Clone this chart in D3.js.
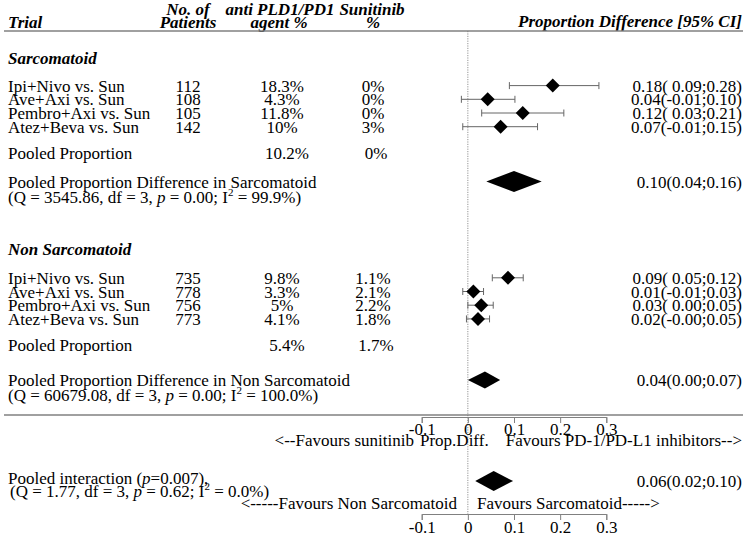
<!DOCTYPE html>
<html><head><meta charset="utf-8">
<script src="https://cdn.jsdelivr.net/npm/d3@7"></script>
<style>
body{margin:0;background:#fff}
text{font-family:"Liberation Serif","Times New Roman",Times,serif;font-size:17px;fill:#000}
.hdr{font-weight:bold;font-style:italic}
</style>
</head><body><svg id="c" width="753" height="543"></svg>
<script>
// ---------- data ----------
const headers = ["Trial","No. of","Patients","anti PLD1/PD1","agent %","Sunitinib","%","Proportion Difference [95% CI]"];
const groups = ["Sarcomatoid","Non Sarcomatoid"];
const trials = ["Ipi+Nivo vs. Sun","Ave+Axi vs. Sun","Pembro+Axi vs. Sun","Atez+Beva vs. Sun"];

const sarcN     = [112,108,105,142];
const sarcAgent = ["18.3%","4.3%","11.8%","10%"];
const sarcSun   = ["0%","0%","0%","3%"];
const sarcEst   = [0.184,0.043,0.119,0.071];
const sarcLo    = [0.09,-0.014,0.03,-0.011];
const sarcHi    = [0.284,0.102,0.208,0.151];
const sarcCI    = ["0.18( 0.09;0.28)","0.04(-0.01;0.10)","0.12( 0.03;0.21)","0.07(-0.01;0.15)"];
const sarcPooledAgent = "10.2%", sarcPooledSun = "0%";
const sarcPooled = {est:0.10, lo:0.04, hi:0.16, label:"0.10(0.04;0.16)",
  title:"Pooled Proportion Difference in Sarcomatoid", Q:"3545.86", df:"3", p:"0.00", I2:"99.9%"};

const nonN     = [735,778,756,773];
const nonAgent = ["9.8%","3.3%","5%","4.1%"];
const nonSun   = ["1.1%","2.1%","2.2%","1.8%"];
const nonEst   = [0.087,0.012,0.029,0.022];
const nonLo    = [0.053,-0.011,0.0,-0.003];
const nonHi    = [0.12,0.034,0.055,0.047];
const nonCI    = ["0.09( 0.05;0.12)","0.01(-0.01;0.03)","0.03( 0.00;0.05)","0.02(-0.00;0.05)"];
const nonPooledAgent = "5.4%", nonPooledSun = "1.7%";
const nonPooled = {est:0.037, lo:0.0, hi:0.07, label:"0.04(0.00;0.07)",
  title:"Pooled Proportion Difference in Non Sarcomatoid", Q:"60679.08", df:"3", p:"0.00", I2:"100.0%"};

const interaction = {est:0.056, lo:0.016, hi:0.098, label:"0.06(0.02;0.10)",
  p:"0.007", Q:"1.77", df:"3", pQ:"0.62", I2:"0.0%"};

const tickVals = [-0.1,0,0.1,0.2,0.3];
const axisText1 = ["<--Favours sunitinib","Prop.Diff.","Favours PD-1/PD-L1 inhibitors-->"];
const axisText2 = ["<-----Favours Non Sarcomatoid","Favours Sarcomatoid----->"];

// ---------- layout ----------
const svg = d3.select("#c");
const x = d3.scaleLinear().domain([-0.1,0.3]).range([421.7,606.3]);
const rowSarc = d3.scaleLinear().domain([0,1]).range([85.6,99.3]);
const rowNon  = d3.scaleLinear().domain([0,1]).range([277.8,291.5]);
const colTrial = 8, colN = 188, colAgent = 282, colSun = 373, colCI = 742;
const gray = "#808080";

function txt(xp, y, s, anchor, cls){
  return svg.append("text").attr("x",xp).attr("y",y).attr("text-anchor",anchor||"start")
    .attr("class",cls||null).text(s);
}

// header
txt(colTrial,28,headers[0],"start","hdr");
txt(colN,15,headers[1],"middle","hdr");
txt(colN,28,headers[2],"middle","hdr");
txt(280,15,headers[3],"middle","hdr");
txt(279,28,headers[4],"middle","hdr");
txt(372,15,headers[5],"middle","hdr");
txt(373,28,headers[6],"middle","hdr");
txt(colCI,27,headers[7],"end","hdr");

svg.append("line").attr("x1",4).attr("x2",743).attr("y1",31).attr("y2",31)
  .attr("stroke",gray).attr("stroke-width",1.3);
svg.append("line").attr("x1",4).attr("x2",743).attr("y1",415).attr("y2",415)
  .attr("stroke",gray).attr("stroke-width",1.3);

// zero reference line
svg.append("line").attr("x1",x(0)).attr("x2",x(0)).attr("y1",31).attr("y2",515)
  .attr("stroke","#777").attr("stroke-width",0.8).attr("stroke-dasharray","1.2,1.2");

function diamondPath(cx, cy, hw, hh){
  return `M${cx-hw},${cy}L${cx},${cy-hh}L${cx+hw},${cy}L${cx},${cy+hh}Z`;
}
function poolPath(est, lo, hi, cy, hh){
  return `M${x(lo)},${cy}L${x(est)},${cy-hh}L${x(hi)},${cy}L${x(est)},${cy+hh}Z`;
}

function qLine(xp, y, Q, df, p, I2){
  const t = svg.append("text").attr("x",xp).attr("y",y);
  t.append("tspan").text(`(Q = ${Q}, df = ${df}, `);
  t.append("tspan").attr("font-style","italic").text("p");
  t.append("tspan").text(` = ${p}; I`);
  t.append("tspan").attr("font-size","11px").attr("dy",-7).text("2");
  t.append("tspan").attr("dy",7).text(` = ${I2})`);
  return t;
}

function section(groupName, gy, rowY, N, agent, sun, est, lo, hi, ci, pAgent, pSun, pooled, pooledY, pooledRowY, hh){
  txt(colTrial, gy, groupName, "start", "hdr");
  const idx = d3.range(trials.length);
  idx.forEach(i=>{
    const y = rowY(i);
    txt(colTrial, y+6, trials[i]);
    txt(colN, y+6, String(N[i]), "middle");
    txt(colAgent, y+6, agent[i], "middle");
    txt(colSun, y+6, sun[i], "middle");
    txt(colCI, y+6, ci[i], "end");
  });
  const g = svg.append("g");
  g.selectAll("line.ci").data(idx).join("line").attr("class","ci")
    .attr("x1",i=>x(lo[i])).attr("x2",i=>x(hi[i])).attr("y1",i=>rowY(i)).attr("y2",i=>rowY(i))
    .attr("stroke","#666").attr("stroke-width",1);
  g.selectAll("line.capl").data(idx).join("line").attr("class","capl")
    .attr("x1",i=>x(lo[i])).attr("x2",i=>x(lo[i])).attr("y1",i=>rowY(i)-3.5).attr("y2",i=>rowY(i)+3.5)
    .attr("stroke","#666").attr("stroke-width",1);
  g.selectAll("line.caph").data(idx).join("line").attr("class","caph")
    .attr("x1",i=>x(hi[i])).attr("x2",i=>x(hi[i])).attr("y1",i=>rowY(i)-3.5).attr("y2",i=>rowY(i)+3.5)
    .attr("stroke","#666").attr("stroke-width",1);
  g.selectAll("path.pt").data(idx).join("path").attr("class","pt")
    .attr("d",i=>diamondPath(x(est[i]), rowY(i), 7, 7)).attr("fill","#000");

  txt(colTrial, pooledRowY, "Pooled Proportion");
  txt(287, pooledRowY, pAgent, "middle");
  txt(376, pooledRowY, pSun, "middle");

  txt(colTrial, pooledY+6, pooled.title);
  qLine(colTrial, pooledY+21, pooled.Q, pooled.df, pooled.p, pooled.I2);
  svg.append("path").attr("d",poolPath(pooled.est,pooled.lo,pooled.hi,pooledY,hh)).attr("fill","#000");
  txt(colCI, pooledY+6, pooled.label, "end");
}

section(groups[0], 64, rowSarc, sarcN, sarcAgent, sarcSun, sarcEst, sarcLo, sarcHi, sarcCI,
  sarcPooledAgent, sarcPooledSun, sarcPooled, 181.5, 158.5, 10.5);
section(groups[1], 255, rowNon, nonN, nonAgent, nonSun, nonEst, nonLo, nonHi, nonCI,
  nonPooledAgent, nonPooledSun, nonPooled, 380, 351, 8.5);

// upper axis
const axis1 = svg.append("g").attr("transform","translate(0,417)")
  .call(d3.axisBottom(x).tickValues(tickVals).tickSize(6).tickPadding(0).tickFormat(d=>String(d)));
axis1.selectAll("path,line").attr("stroke",gray);
axis1.selectAll("text").attr("font-size",null).attr("font-family",null).style("font-size","17px");
txt(414, 446, axisText1[0], "end");
txt(420, 446, axisText1[1], "start");
txt(colCI, 446, axisText1[2], "end");

// interaction
const iy = 481;
const t1 = svg.append("text").attr("x",colTrial).attr("y",iy+3);
t1.append("tspan").text("Pooled interaction (");
t1.append("tspan").attr("font-style","italic").text("p");
t1.append("tspan").text(`=${interaction.p}),`);
const q2 = svg.append("text").attr("x",colTrial+2).attr("y",iy+16);
q2.append("tspan").text(`(Q = ${interaction.Q}, df = ${interaction.df}, `);
q2.append("tspan").attr("font-style","italic").text("p");
q2.append("tspan").text(` = ${interaction.pQ}; I`);
q2.append("tspan").attr("font-size","11px").attr("dy",-7).text("2");
q2.append("tspan").attr("dy",7).text(` = ${interaction.I2})`);
svg.append("path").attr("d",poolPath(interaction.est,interaction.lo,interaction.hi,iy,10)).attr("fill","#000");
txt(colCI, iy+6, interaction.label, "end");

txt(457, 509, axisText2[0], "end");
txt(477, 509, axisText2[1], "start");

const axis2 = svg.append("g").attr("transform","translate(0,514)")
  .call(d3.axisBottom(x).tickValues(tickVals).tickSize(6).tickPadding(1).tickFormat(d=>String(d)));
axis2.selectAll("path,line").attr("stroke",gray);
axis2.selectAll("text").attr("font-size",null).attr("font-family",null).style("font-size","17px");
</script>
</body></html>
